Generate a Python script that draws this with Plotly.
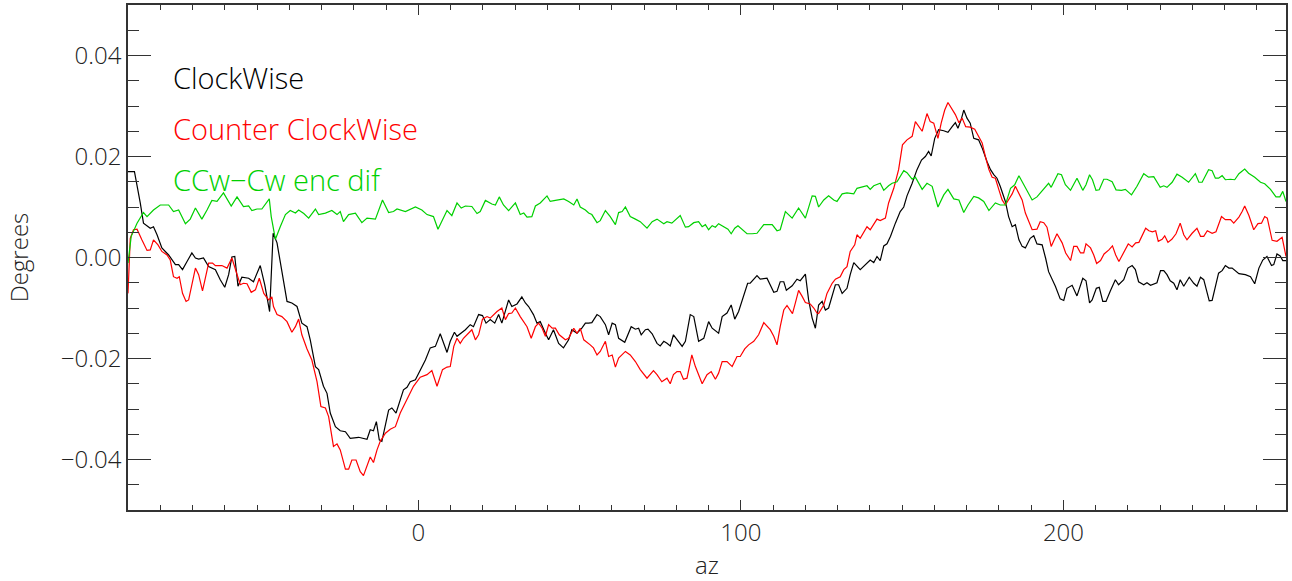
import plotly.graph_objects as go

# ---- data (az in degrees, values in degrees) ----
cw_az = [-90, -88, -86.2, -85.2, -83.1, -82.1, -81.0, -79.5, -77.4, -75.3, -74.3, -73.1, -71.7, -70.2, -69.1,
         -68.1, -66.6, -65.0, -62.9, -61.4, -60.0, -58.8, -57.8, -56.9, -55.9, -54.7, -52.6, -51.1, -49.0, -47.6,
         -46.1, -45.0, -43.8, -42.3, -40.7, -39.2, -37.6, -36.1, -34.5, -33.5, -31.9, -30.9, -29.4, -28.3, -27.3,
         -25.7, -24.2, -22.6, -21.1, -18.5, -15.9, -14.9, -13.9, -13.0, -12.1, -11.3, -10.2, -9.2, -8.2, -6.9,
         -5.6, -4.6, -3.5, -2.5, -0.9, 0.6, 2.2, 3.7, 5.3, 6.8, 7.8, 8.9, 9.9, 11.2, 12.0, 13.5, 14.6, 16.1, 17.1,
         18.7, 19.9, 21.0, 22.3, 23.7, 24.9, 25.9, 28.0, 29.0, 30.6, 32.1, 33.2, 34.2, 35.7, 36.8, 37.8, 39.4,
         40.4, 41.9, 43.5, 45.0, 46.6, 47.6, 49.2, 50.7, 51.8, 52.8, 53.8, 55.4, 56.4, 58.0, 59.0, 60.1, 61.1,
         62.1, 64.0, 66.0, 67.3, 68.3, 69.1, 70.4, 71.2, 72.5, 74.0, 75.0, 76.1, 77.1, 78.1, 79.1, 80.2, 81.8,
         82.8, 84.3, 85.4, 86.9, 88.5, 90.0, 91.1, 93.1, 94.2, 95.7, 97.0, 98.1, 99.3, 100.9, 102.1, 102.9,
         104.0, 105.0, 106.0, 108.1, 110.2, 111.2, 112.2, 113.3, 114.1, 115.9, 117.4, 118.4, 120.0, 121.0,
         122.1, 123.1, 124.1, 125.2, 126.2, 127.2, 129.3, 130.3, 131.4, 132.9, 133.9, 135.0, 137.0, 138.6,
         140.1, 141.2, 142.2, 143.2, 144.3, 145.3, 146.4, 147.9, 149.4, 150.5, 151.5, 153.1, 154.6, 156.0,
         157.2, 158.2, 159.0, 160.1, 161.3, 162.9, 164.2, 165.5, 166.5, 167.3, 168.3, 169.1, 170.1, 171.1,
         172.2, 173.7, 174.8, 176.3, 177.4, 178.4, 179.4, 180.4, 182.0, 183.0, 184.1, 185.1, 186.2, 187.2,
         188.2, 189.7, 190.8, 191.8, 193.4, 194.5, 195.4, 197.5, 199.0, 200.1, 201.1, 202.7, 204.2, 206.0,
         207.0, 208.1, 208.9, 210.2, 211.1, 212.2, 213.2, 214.5, 216.1, 217.1, 218.7, 220.0, 221.3, 222.3,
         223.3, 224.9, 225.9, 227.0, 229.0, 230.1, 231.1, 232.1, 233.1, 234.2, 235.2, 236.2, 237.3, 239.0,
         240.4, 241.4, 242.5, 243.5, 245.2, 246.1, 247.1, 248.1, 249.2, 250.2, 251.3, 252.3, 254.4, 256.4,
         258.0, 259.3, 260.6, 261.8, 263.1, 264.5, 265.2, 266.2, 267.2, 268.0, 269.0]
cw_deg = [0.0170, 0.0170, 0.0108, 0.0068, 0.0058, 0.0061, 0.0045, 0.0019, 0.0005, -0.0014, -0.0014, -0.0024,
          -0.0008, 0.0009, -0.0001, -0.0003, -0.0001, -0.0018, -0.0024, -0.0044, -0.0059, -0.0034, 0.0001,
          0.0002, -0.0057, -0.0039, -0.0041, -0.0048, -0.0016, -0.0054, -0.0107, 0.0048, 0.0029, -0.0031,
          -0.0087, -0.0090, -0.0097, -0.0130, -0.0137, -0.0163, -0.0216, -0.0222, -0.0255, -0.0269, -0.0308,
          -0.0335, -0.0343, -0.0345, -0.0358, -0.0356, -0.0360, -0.0341, -0.0343, -0.0325, -0.0361, -0.0364,
          -0.0328, -0.0302, -0.0298, -0.0308, -0.0282, -0.0262, -0.0257, -0.0246, -0.0242, -0.0222, -0.0203,
          -0.0179, -0.0176, -0.0151, -0.0170, -0.0188, -0.0166, -0.0148, -0.0156, -0.0148, -0.0143, -0.0133,
          -0.0137, -0.0113, -0.0115, -0.0130, -0.0123, -0.0130, -0.0113, -0.0130, -0.0084, -0.0097, -0.0092,
          -0.0078, -0.0090, -0.0097, -0.0113, -0.0130, -0.0127, -0.0150, -0.0163, -0.0143, -0.0170, -0.0179,
          -0.0163, -0.0143, -0.0150, -0.0140, -0.0130, -0.0130, -0.0129, -0.0113, -0.0117, -0.0133, -0.0153,
          -0.0130, -0.0133, -0.0160, -0.0168, -0.0137, -0.0142, -0.0140, -0.0153, -0.0143, -0.0142, -0.0151,
          -0.0170, -0.0175, -0.0166, -0.0170, -0.0175, -0.0153, -0.0163, -0.0176, -0.0166, -0.0113, -0.0117,
          -0.0166, -0.0160, -0.0127, -0.0140, -0.0150, -0.0117, -0.0110, -0.0094, -0.0122, -0.0107, -0.0077,
          -0.0051, -0.0051, -0.0043, -0.0036, -0.0043, -0.0041, -0.0069, -0.0067, -0.0048, -0.0048, -0.0065,
          -0.0056, -0.0043, -0.0046, -0.0033, -0.0084, -0.0120, -0.0140, -0.0094, -0.0087, -0.0104, -0.0100,
          -0.0054, -0.0054, -0.0071, -0.0061, -0.0034, -0.0010, -0.0024, -0.0014, -0.0005, -0.0010, 0.0002,
          -0.0006, 0.0023, 0.0027, 0.0042, 0.0068, 0.0091, 0.0100, 0.0122, 0.0147, 0.0174, 0.0193, 0.0200,
          0.0210, 0.0201, 0.0236, 0.0253, 0.0251, 0.0248, 0.0259, 0.0267, 0.0256, 0.0273, 0.0292, 0.0276,
          0.0266, 0.0236, 0.0233, 0.0217, 0.0190, 0.0174, 0.0164, 0.0157, 0.0141, 0.0111, 0.0081, 0.0061,
          0.0065, 0.0035, 0.0022, 0.0019, 0.0038, 0.0043, 0.0027, 0.0025, -0.0002, -0.0028, -0.0057, -0.0082,
          -0.0085, -0.0061, -0.0055, -0.0076, -0.0041, -0.0046, -0.0090, -0.0084, -0.0061, -0.0059, -0.0087,
          -0.0087, -0.0067, -0.0044, -0.0054, -0.0044, -0.0021, -0.0016, -0.0024, -0.0048, -0.0054, -0.0050,
          -0.0055, -0.0050, -0.0026, -0.0026, -0.0034, -0.0046, -0.0051, -0.0064, -0.0044, -0.0057, -0.0039,
          -0.0051, -0.0057, -0.0039, -0.0044, -0.0086, -0.0085, -0.0057, -0.0031, -0.0026, -0.0016, -0.0021,
          -0.0021, -0.0032, -0.0034, -0.0038, -0.0052, -0.0021, -0.0005, 0.0002, -0.0016, -0.0014, 0.0007,
          0.0003, -0.0006, -0.0006]

ccw_az = [-90, -89.3, -88.3, -87.2, -85.7, -84.1, -83.1, -82.1, -80.7, -79.5, -77.9, -76.9, -75.9, -74.8, -74.1,
          -73.1, -72.0, -71.2, -69.1, -68.1, -66.9, -65.0, -63.8, -62.9, -60.9, -59.3, -57.8, -56.7, -55.2,
          -54.2, -53.1, -51.8, -50.5, -49.3, -47.9, -46.4, -45.4, -44.9, -43.8, -42.3, -40.7, -39.2, -38.1,
          -37.1, -36.1, -34.5, -33.0, -31.4, -30.2, -28.8, -27.8, -26.3, -25.2, -24.2, -22.6, -21.6, -20.6,
          -19.3, -18.0, -17.0, -15.9, -14.9, -13.9, -12.8, -11.8, -10.2, -8.7, -7.1, -5.6, -4.0, -2.5, -1.5,
          0.6, 2.7, 4.2, 5.8, 7.5, 8.9, 9.9, 11.0, 12.0, 13.0, 14.0, 15.6, 16.6, 17.7, 18.7, 19.9, 21.3, 22.3,
          23.3, 24.4, 25.9, 27.0, 28.0, 29.0, 30.1, 31.6, 33.7, 35.0, 36.3, 37.3, 38.4, 39.4, 40.4, 41.5, 42.5,
          43.7, 45.6, 46.6, 48.2, 49.2, 50.2, 51.3, 53.3, 54.3, 55.4, 56.4, 58.0, 59.0, 60.1, 61.1, 62.1, 64.2,
          65.7, 67.3, 68.8, 70.9, 72.9, 74.0, 75.5, 77.1, 78.1, 79.1, 80.2, 81.2, 82.2, 83.3, 84.8, 85.9, 88.0,
          89.5, 90.8, 92.1, 93.1, 94.2, 95.7, 97.3, 98.8, 99.8, 101.2, 102.4, 104.0, 105.5, 107.1, 108.1,
          109.1, 110.2, 111.2, 112.2, 113.3, 114.3, 116.0, 116.9, 117.9, 119.0, 120.0, 121.5, 122.6, 123.6,
          124.1, 125.7, 126.7, 128.3, 129.3, 130.8, 131.9, 132.9, 133.9, 135.3, 136.0, 137.0, 138.1, 139.1,
          140.1, 141.2, 142.2, 143.2, 144.8, 145.8, 147.4, 148.9, 150.1, 151.5, 153.1, 154.1, 155.1, 156.2,
          157.7, 158.7, 159.8, 161.1, 162.1, 163.2, 164.2, 165.5, 166.5, 167.6, 168.6, 169.7, 171.1, 172.5,
          173.7, 174.8, 175.8, 176.9, 177.9, 178.9, 180.0, 181.0, 182.0, 183.0, 184.1, 185.1, 186.1, 187.2,
          188.2, 189.2, 190.3, 191.8, 192.8, 193.9, 194.9, 196.2, 198.0, 199.6, 200.7, 202.2, 203.2, 204.2,
          205.3, 206.3, 207.0, 208.4, 209.4, 210.3, 211.5, 212.6, 214.1, 215.2, 216.2, 217.2, 218.5, 220.1,
          221.3, 222.4, 223.4, 224.4, 225.5, 226.5, 227.6, 228.6, 229.4, 230.6, 231.4, 232.4, 233.6, 234.9,
          236.2, 237.3, 238.3, 239.9, 241.4, 242.5, 243.5, 244.6, 246.1, 247.3, 249.0, 250.2, 251.8, 252.8,
          254.4, 255.4, 256.2, 257.5, 259.0, 260.3, 261.4, 262.4, 263.2, 264.7, 266.2, 267.8, 269.0]
ccw_deg = [-0.0071, 0.0038, 0.0055, 0.0056, 0.0035, 0.0014, 0.0015, 0.0035, 0.0025, 0.0012, 0.0005, -0.0005,
           -0.0038, -0.0041, -0.0038, -0.0071, -0.0087, -0.0084, -0.0021, -0.0034, -0.0066, -0.0011, -0.0011,
           -0.0016, -0.0016, -0.0021, -0.0001, -0.0024, -0.0054, -0.0051, -0.0052, -0.0069, -0.0064, -0.0041,
           -0.0071, -0.0084, -0.0078, -0.0097, -0.0113, -0.0117, -0.0127, -0.0148, -0.0137, -0.0122, -0.0153,
           -0.0181, -0.0203, -0.0246, -0.0295, -0.0298, -0.0315, -0.0374, -0.0369, -0.0381, -0.0419, -0.0419,
           -0.0401, -0.0401, -0.0424, -0.0432, -0.0414, -0.0395, -0.0406, -0.0381, -0.0364, -0.0348, -0.0340,
           -0.0335, -0.0308, -0.0288, -0.0269, -0.0255, -0.0237, -0.0232, -0.0224, -0.0255, -0.0222, -0.0217,
           -0.0216, -0.0176, -0.0160, -0.0170, -0.0160, -0.0150, -0.0143, -0.0163, -0.0153, -0.0122, -0.0117,
           -0.0120, -0.0113, -0.0107, -0.0100, -0.0123, -0.0111, -0.0110, -0.0100, -0.0117, -0.0137, -0.0160,
           -0.0137, -0.0130, -0.0140, -0.0156, -0.0133, -0.0140, -0.0140, -0.0153, -0.0163, -0.0160, -0.0140,
           -0.0150, -0.0140, -0.0163, -0.0173, -0.0179, -0.0193, -0.0186, -0.0166, -0.0196, -0.0193, -0.0217,
           -0.0199, -0.0186, -0.0193, -0.0206, -0.0222, -0.0239, -0.0224, -0.0232, -0.0246, -0.0239, -0.0250,
           -0.0232, -0.0226, -0.0226, -0.0241, -0.0239, -0.0193, -0.0216, -0.0250, -0.0232, -0.0226, -0.0241,
           -0.0229, -0.0206, -0.0206, -0.0216, -0.0196, -0.0196, -0.0181, -0.0173, -0.0166, -0.0153, -0.0129,
           -0.0137, -0.0143, -0.0156, -0.0173, -0.0137, -0.0104, -0.0095, -0.0111, -0.0090, -0.0065, -0.0077,
           -0.0089, -0.0092, -0.0100, -0.0110, -0.0111, -0.0094, -0.0071, -0.0051, -0.0043, -0.0038, -0.0024,
           -0.0018, 0.0012, 0.0025, 0.0045, 0.0038, 0.0051, 0.0061, 0.0055, 0.0065, 0.0076, 0.0073, 0.0078,
           0.0108, 0.0137, 0.0174, 0.0223, 0.0233, 0.0240, 0.0269, 0.0259, 0.0250, 0.0285, 0.0269, 0.0266,
           0.0236, 0.0266, 0.0292, 0.0307, 0.0292, 0.0283, 0.0267, 0.0276, 0.0259, 0.0258, 0.0254, 0.0240,
           0.0227, 0.0200, 0.0174, 0.0159, 0.0157, 0.0134, 0.0114, 0.0104, 0.0114, 0.0126, 0.0141, 0.0128,
           0.0114, 0.0088, 0.0073, 0.0055, 0.0056, 0.0071, 0.0069, 0.0060, 0.0022, 0.0047, 0.0029, 0.0009,
           -0.0006, 0.0022, 0.0022, 0.0009, 0.0009, 0.0027, 0.0019, 0.0005, -0.0012, -0.0006, 0.0007, 0.0015,
           0.0023, 0.0005, -0.0008, 0.0009, 0.0027, 0.0021, 0.0029, 0.0030, 0.0042, 0.0058, 0.0053, 0.0051,
           0.0053, 0.0032, 0.0036, 0.0043, 0.0030, 0.0036, 0.0047, 0.0068, 0.0045, 0.0035, 0.0048, 0.0058,
           0.0042, 0.0042, 0.0053, 0.0048, 0.0051, 0.0081, 0.0075, 0.0075, 0.0068, 0.0080, 0.0091, 0.0102,
           0.0083, 0.0055, 0.0067, 0.0068, 0.0081, 0.0078, 0.0034, 0.0032, 0.0040, 0.0002]

dif_az = [-90, -89.0, -87.2, -85.2, -84.1, -82.1, -80.0, -77.4, -75.9, -74.3, -72.2, -70.7, -69.1, -67.1, -65.5,
          -64.0, -62.4, -60.4, -58.0, -56.2, -54.2, -52.6, -51.6, -50.0, -48.5, -46.2, -45.6, -44.3, -42.8,
          -41.2, -39.7, -38.1, -37.1, -35.5, -34.0, -31.9, -30.9, -28.8, -26.8, -25.2, -24.2, -23.2, -21.6,
          -19.5, -17.5, -15.9, -13.3, -11.1, -9.2, -7.7, -6.6, -4.0, -0.9, 1.1, 2.7, 4.7, 6.1, 7.8, 8.9, 10.4,
          12.0, 13.3, 14.6, 16.6, 18.2, 19.2, 20.8, 22.8, 23.9, 25.1, 26.4, 28.0, 30.1, 31.6, 32.7, 33.7, 35.2,
          36.3, 37.8, 39.9, 40.9, 42.5, 45.1, 46.6, 48.2, 49.2, 50.2, 51.8, 52.8, 53.8, 55.4, 56.4, 58.0, 59.5,
          61.1, 62.1, 63.2, 64.2, 65.7, 67.3, 68.8, 70.9, 72.5, 74.0, 76.1, 77.1, 78.6, 81.2, 82.8, 83.8, 85.4,
          86.9, 88.0, 89.0, 90.0, 91.1, 92.1, 93.1, 94.7, 96.0, 97.0, 98.1, 99.1, 100.4, 101.9, 103.5, 105.0,
          107.1, 109.7, 111.2, 112.2, 113.8, 115.9, 117.9, 120.0, 122.1, 123.1, 124.1, 125.7, 127.2, 128.8,
          129.8, 131.4, 132.9, 135.0, 136.0, 137.6, 139.1, 140.1, 141.2, 143.2, 144.3, 145.8, 146.9, 148.4,
          150.5, 151.5, 153.1, 154.1, 156.2, 157.7, 159.3, 161.1, 162.9, 164.2, 166.0, 167.6, 169.1, 170.4,
          172.2, 173.7, 175.3, 176.9, 178.9, 180.4, 182.0, 183.6, 184.9, 186.2, 187.8, 190.3, 191.8, 193.9,
          195.4, 196.2, 198.3, 199.4, 200.6, 202.2, 203.2, 204.2, 206.0, 207.0, 208.1, 209.0, 210.1, 211.1,
          212.5, 213.5, 215.1, 216.3, 218.0, 219.2, 221.1, 222.8, 224.9, 226.4, 228.0, 230.0, 231.1, 232.1,
          233.7, 235.2, 236.8, 238.8, 240.9, 242.0, 243.0, 245.0, 246.1, 247.1, 248.1, 249.2, 250.2, 251.8,
          253.1, 254.4, 256.2, 257.4, 259.3, 261.1, 262.4, 264.2, 265.9, 267.1, 268.0, 269.0]
dif_deg = [-0.0011, 0.0042, 0.0068, 0.0089, 0.0081, 0.0094, 0.0104, 0.0104, 0.0091, 0.0094, 0.0067, 0.0076,
           0.0098, 0.0076, 0.0094, 0.0113, 0.0111, 0.0128, 0.0102, 0.0120, 0.0101, 0.0102, 0.0093, 0.0096,
           0.0096, 0.0116, 0.0081, 0.0036, 0.0061, 0.0085, 0.0093, 0.0088, 0.0094, 0.0087, 0.0078, 0.0096,
           0.0085, 0.0088, 0.0093, 0.0085, 0.0091, 0.0071, 0.0085, 0.0088, 0.0069, 0.0078, 0.0076, 0.0114,
           0.0089, 0.0091, 0.0096, 0.0091, 0.0100, 0.0094, 0.0085, 0.0081, 0.0056, 0.0078, 0.0093, 0.0083,
           0.0108, 0.0098, 0.0102, 0.0101, 0.0087, 0.0091, 0.0113, 0.0106, 0.0104, 0.0120, 0.0104, 0.0093,
           0.0108, 0.0085, 0.0088, 0.0080, 0.0081, 0.0102, 0.0108, 0.0122, 0.0111, 0.0113, 0.0116, 0.0111,
           0.0104, 0.0116, 0.0100, 0.0094, 0.0088, 0.0085, 0.0069, 0.0073, 0.0093, 0.0081, 0.0065, 0.0089,
           0.0091, 0.0100, 0.0081, 0.0076, 0.0071, 0.0058, 0.0071, 0.0076, 0.0067, 0.0071, 0.0068, 0.0083,
           0.0060, 0.0061, 0.0069, 0.0071, 0.0061, 0.0065, 0.0055, 0.0063, 0.0060, 0.0067, 0.0061, 0.0056,
           0.0047, 0.0058, 0.0063, 0.0055, 0.0047, 0.0047, 0.0048, 0.0065, 0.0065, 0.0053, 0.0055, 0.0091,
           0.0078, 0.0098, 0.0078, 0.0122, 0.0121, 0.0100, 0.0114, 0.0122, 0.0114, 0.0111, 0.0126, 0.0128,
           0.0126, 0.0137, 0.0139, 0.0142, 0.0135, 0.0142, 0.0147, 0.0133, 0.0142, 0.0147, 0.0150, 0.0172,
           0.0168, 0.0155, 0.0159, 0.0135, 0.0147, 0.0141, 0.0100, 0.0124, 0.0135, 0.0116, 0.0114, 0.0089,
           0.0104, 0.0121, 0.0118, 0.0111, 0.0093, 0.0108, 0.0104, 0.0104, 0.0137, 0.0144, 0.0162, 0.0144,
           0.0114, 0.0120, 0.0135, 0.0147, 0.0139, 0.0166, 0.0164, 0.0144, 0.0133, 0.0144, 0.0157, 0.0133,
           0.0144, 0.0164, 0.0154, 0.0133, 0.0134, 0.0155, 0.0155, 0.0150, 0.0134, 0.0133, 0.0135, 0.0124,
           0.0141, 0.0166, 0.0159, 0.0160, 0.0139, 0.0142, 0.0139, 0.0149, 0.0165, 0.0159, 0.0149, 0.0166,
           0.0149, 0.0149, 0.0174, 0.0172, 0.0157, 0.0157, 0.0162, 0.0154, 0.0155, 0.0154, 0.0166, 0.0175,
           0.0167, 0.0159, 0.0149, 0.0146, 0.0135, 0.0120, 0.0120, 0.0131, 0.0111]

labels = ["ClockWise", "Counter ClockWise", "CCw\u2212Cw enc dif"]
colors = ["#000000", "#ff0000", "#00d000"]

FONT = "Open Sans"
TXT = "#222222"
AX = "#333333"

fig = go.Figure()
for az, val, name, col in [(cw_az, cw_deg, labels[0], colors[0]),
                            (ccw_az, ccw_deg, labels[1], colors[1]),
                            (dif_az, dif_deg, labels[2], colors[2])]:
    fig.add_trace(go.Scatter(x=az, y=val, mode="lines", name=name,
                             line=dict(color=col, width=1.2), showlegend=False))

for i, (txt, col) in enumerate(zip(labels, colors)):
    fig.add_annotation(x=0.037, y=0.857 - 0.1015 * i, xref="paper", yref="paper",
                       xanchor="left", yanchor="middle", text=txt, showarrow=False,
                       font=dict(family=FONT, size=29, color=col, weight=300))

axis_common = dict(showgrid=False, zeroline=False, showline=True, linecolor=AX,
                   linewidth=1.5, mirror="ticks", ticks="inside", tickcolor=AX,
                   tickwidth=1.2, automargin=False)

fig.update_xaxes(range=[-90, 269], tick0=0, dtick=100, ticklen=10,
                 minor=dict(ticks="inside", dtick=10, tick0=0, ticklen=5, tickcolor=AX),
                 tickfont=dict(family=FONT, size=24, color=TXT, weight=300),
                 title=dict(text="az", font=dict(family=FONT, size=24, color=TXT, weight=300), standoff=14),
                 **axis_common)
fig.update_yaxes(range=[-0.05, 0.05], tick0=0, dtick=0.02, ticklen=23, tickformat=".2f",
                 minor=dict(ticks="inside", dtick=0.005, tick0=0, ticklen=11, tickcolor=AX),
                 tickfont=dict(family=FONT, size=24, color=TXT, weight=300),
                 title=dict(text="Degrees", font=dict(family=FONT, size=24, color=TXT, weight=300), standoff=26),
                 **axis_common)

fig.update_layout(width=1292, height=581, autosize=False, margin=dict(l=128, r=6, t=5, b=71),
                  paper_bgcolor="white", plot_bgcolor="white", showlegend=False)

fig.write_html("out.html", config={"displayModeBar": False},
               post_script="document.body.style.margin='0px';")
